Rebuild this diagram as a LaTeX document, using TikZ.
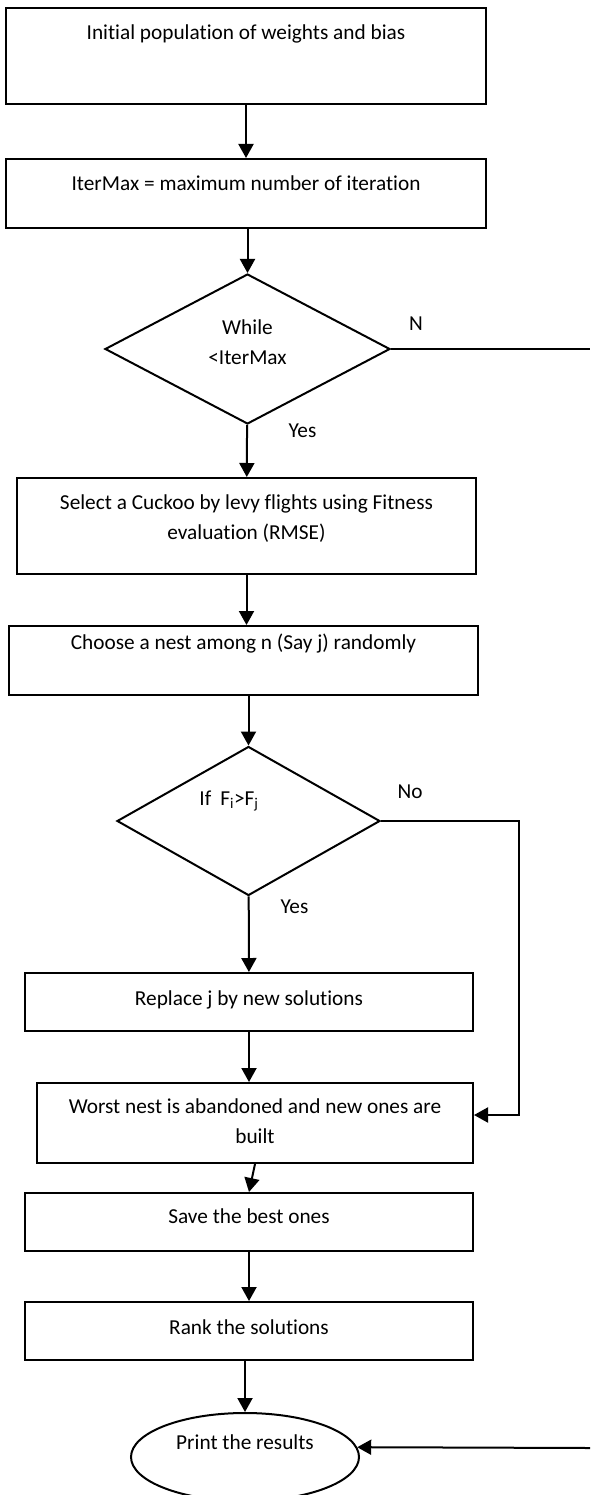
\documentclass[tikz,border=0pt]{standalone}
\usepackage{fontspec}
\setmainfont{Carlito}[Ligatures=NoCommon]
\usetikzlibrary{shapes, arrows.meta, positioning, shapes.geometric}

\begin{document}
\begin{tikzpicture}[x=1pt, y=-1pt, >={Triangle[length=14pt,width=15pt]},
line width=2pt,
font={\fontsize{21.3pt}{30pt}\selectfont},
process/.style={
rectangle,
draw,
inner ysep=0pt,
align=center
},
decision/.style={
diamond,
draw,
inner sep=0pt,
align=center
},
terminal/.style={ellipse, draw, inner sep=0pt,
                minimum width=228pt, minimum height=88pt},
answer/.style={inner sep=1pt}
]

\useasboundingbox (0,0) rectangle (590,1495);

\node[process, minimum width=480pt, text height=32pt, text depth=64pt] (init) at (246,56) {Initial population of weights and bias};
\node[process, minimum width=480pt, text height=31.5pt, text depth=37.5pt] (itermax) at (246,193.5) {IterMax = maximum number of iteration};
\node[decision, minimum width=285pt, minimum height=150pt, text height=39pt, text depth=8pt] (while) at (247.5,349) {While\\<IterMax};
\node[process, minimum width=459pt, text height=61.5pt, text depth=34.5pt] (select) at (246.5,526) {Select a Cuckoo by levy flights using Fitness\\evaluation (RMSE)};
\node[process, minimum width=469pt, text height=23.5pt, text depth=45.5pt] (choose) at (243.5,660.5) {Choose a nest among n (Say j) randomly};
\node[decision, minimum width=263pt, minimum height=149pt, text height=8pt, text depth=39pt] (iffit) at (248.5,821) {If\hspace*{9pt}F\textsubscript{i}>F\textsubscript{j}\hspace*{39pt}};
\node[process, minimum width=448pt, text height=32.5pt, text depth=25.5pt] (replace) at (249,1002) {Replace j by new solutions};
\node[process, minimum width=436pt, text height=60.5pt, text depth=19.5pt] (worst) at (255,1123) {Worst nest is abandoned and new ones are\\built};
\node[process, minimum width=448pt, text height=30.5pt, text depth=27.5pt] (save) at (249,1222) {Save the best ones};
\node[process, minimum width=448pt, text height=32.5pt, text depth=25.5pt] (rank) at (249,1331) {Rank the solutions};
\node[terminal, text height=10pt, text depth=25pt] (print) at (245,1457) {Print the results};

\node[answer] (lblN) at ([shift={(25,-25)}]while.east) {N};
\node[answer] (lblYes1) at ([shift={(55,6)}]while.south) {Yes};
\node[answer] (lblNo) at ([shift={(29,-29)}]iffit.east) {No};
\node[answer] (lblYes2) at ([shift={(46,10)}]iffit.south) {Yes};

\coordinate (nOut) at (590,349);
\coordinate (noTurn) at (519,1115);
\coordinate (pIn) at (590,1448);

\draw[->] (init) -- (itermax);
\draw[->] (while.north |- itermax.south) -- (while.north);
\draw[->] (while) -- (select);
\draw[->] (select.south) -- (select.south |- choose.north);
\draw[->] (iffit.north |- choose.south) -- (iffit.north);
\draw[->] (iffit) -- (replace);
\draw[->] (replace.south) -- (replace.south |- worst.north);
\draw[->] (worst.south) -- (save.north);
\draw[->] (save) -- (rank);
\draw[->] (print.north |- rank.south) -- (print.north);

\draw (while.east) -- (nOut);
\draw[->] (iffit.east) -| (noTurn) -- (noTurn -| worst.east);
\draw[->] (pIn) -- (print.5);

\end{tikzpicture}
\end{document}
